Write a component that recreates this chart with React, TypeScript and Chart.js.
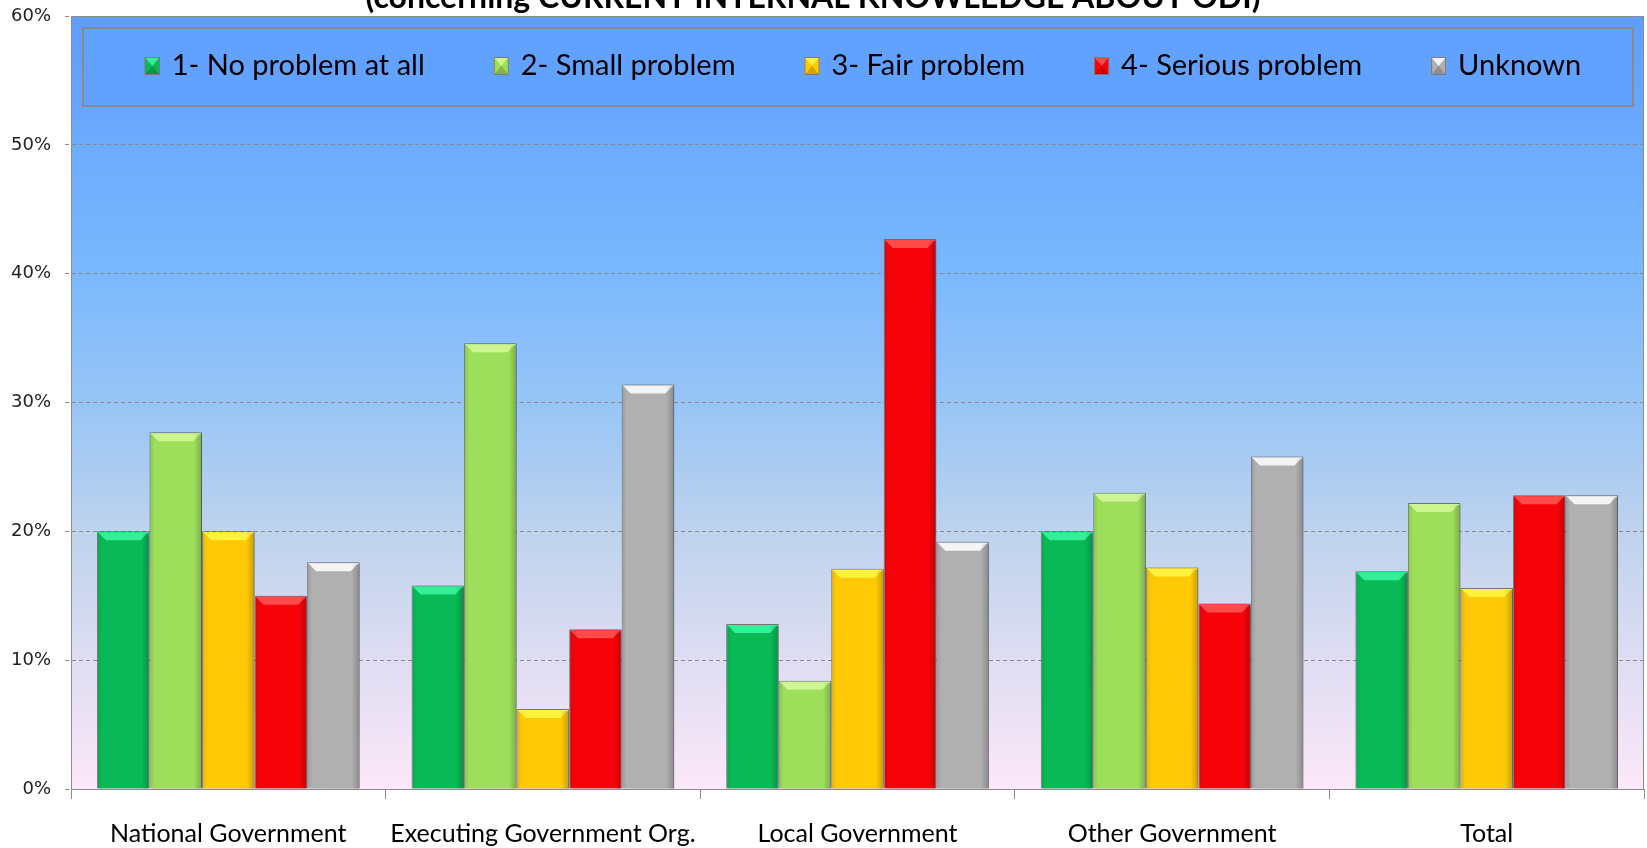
import React, { useEffect, useRef } from "react";
import { Chart, registerables } from "chart.js";
Chart.register(...registerables);

const categories = ["National Government", "Executing Government Org.", "Local Government", "Other Government", "Total"];
const seriesNames = ["1- No problem at all", "2- Small problem", "3- Fair problem", "4- Serious problem", "Unknown"];
const noProblem = [20.0, 15.8, 12.8, 20.0, 16.9];
const smallProblem = [27.7, 34.6, 8.4, 23.0, 22.2];
const fairProblem = [20.0, 6.2, 17.1, 17.2, 15.6];
const seriousProblem = [15.0, 12.4, 42.7, 14.4, 22.8];
const unknownProblem = [17.6, 31.4, 19.2, 25.8, 22.8];
const yTickValues = [0, 10, 20, 30, 40, 50, 60];
const titleText = "(concerning CURRENT INTERNAL KNOWLEDGE ABOUT ODI)";

const fills = ["#08B955", "#9DDF5A", "#FFC905", "#F50309", "#B0B0B0"];
const highlights = ["#34EE98", "#CDF692", "#FFF23C", "#FF4A4A", "#F4F4F4"];

const bgPlugin = {
  id: "bgPlugin",
  beforeDraw(chart: any) {
    const { ctx, chartArea: a } = chart;
    ctx.save();
    ctx.fillStyle = "#ffffff";
    ctx.fillRect(0, 0, chart.width, chart.height);
    const g = ctx.createLinearGradient(0, a.top, 0, a.bottom);
    g.addColorStop(0, "#5D9DFF");
    g.addColorStop(0.33, "#7AB8FD");
    g.addColorStop(0.5, "#98C5F6");
    g.addColorStop(0.67, "#BED3ED");
    g.addColorStop(0.83, "#DEDDF2");
    g.addColorStop(1, "#FCE8F8");
    ctx.fillStyle = g;
    ctx.fillRect(a.left, a.top, a.right - a.left, a.bottom - a.top);
    ctx.restore();
  },
};

const shadowPlugin = {
  id: "shadowPlugin",
  beforeDatasetDraw(chart: any) {
    const ctx = chart.ctx;
    ctx.save();
    ctx.shadowColor = "rgba(0,0,0,0.35)";
    ctx.shadowBlur = 4;
    ctx.shadowOffsetX = 2;
    ctx.shadowOffsetY = 1;
  },
  afterDatasetDraw(chart: any) {
    chart.ctx.restore();
  },
};

const bevelPlugin = {
  id: "bevelPlugin",
  afterDatasetsDraw(chart: any) {
    const ctx = chart.ctx;
    ctx.save();
    chart.data.datasets.forEach((ds: any, i: number) => {
      const meta = chart.getDatasetMeta(i);
      meta.data.forEach((el: any) => {
        const p = el.getProps(["x", "y", "base", "width"], true);
        const l = p.x - p.width / 2;
        const r = p.x + p.width / 2;
        const h = Math.min(9, p.base - p.y);
        ctx.fillStyle = highlights[i];
        ctx.beginPath();
        ctx.moveTo(l + 1, p.y + 1);
        ctx.lineTo(r - 1, p.y + 1);
        ctx.lineTo(r - 9, p.y + h);
        ctx.lineTo(l + 9, p.y + h);
        ctx.closePath();
        ctx.fill();
        const g = ctx.createLinearGradient(r - 8, 0, r, 0);
        g.addColorStop(0, "rgba(0,0,0,0)");
        g.addColorStop(1, "rgba(0,0,0,0.22)");
        ctx.fillStyle = g;
        ctx.fillRect(r - 8, p.y + 2, 7, p.base - p.y - 2);
        const g2 = ctx.createLinearGradient(l, 0, l + 5, 0);
        g2.addColorStop(0, "rgba(0,0,0,0.12)");
        g2.addColorStop(1, "rgba(0,0,0,0)");
        ctx.fillStyle = g2;
        ctx.fillRect(l + 1, p.y + 2, 5, p.base - p.y - 2);
      });
    });
    ctx.restore();
  },
};

const overlayPlugin = {
  id: "overlayPlugin",
  afterDraw(chart: any) {
    const { ctx, chartArea: a } = chart;
    ctx.save();
    ctx.strokeStyle = "#8C8C8C";
    ctx.lineWidth = 1;
    ctx.strokeRect(a.left + 0.5, a.top + 0.5, a.right - a.left - 1, a.bottom - a.top);
    const bl = a.left + 12, br = a.right - 11, bt = a.top + 12, bb = a.top + 90;
    ctx.fillStyle = "#61A1FF";
    ctx.fillRect(bl, bt, br - bl, bb - bt);
    ctx.strokeStyle = "#8A8A8A";
    ctx.lineWidth = 2;
    ctx.strokeRect(bl, bt, br - bl, bb - bt);
    ctx.font = "29px Lato";
    ctx.textBaseline = "middle";
    ctx.textAlign = "left";
    const mw = 15, mh = 18, mg = 12, gap = 69;
    const names = chart.data.datasets.map((d: any) => d.label);
    const widths = names.map((n: string) => ctx.measureText(n).width);
    const total = widths.reduce((s: number, w: number) => s + w + mw + mg, 0) + gap * (names.length - 1);
    let x = (bl + br) / 2 + 5 - total / 2;
    const cy = (bt + bb) / 2 - 1;
    names.forEach((n: string, i: number) => {
      const mx = x, my = cy - mh / 2;
      ctx.fillStyle = fills[i];
      ctx.fillRect(mx, my, mw, mh);
      ctx.fillStyle = highlights[i];
      ctx.beginPath();
      ctx.moveTo(mx, my);
      ctx.lineTo(mx + mw, my);
      ctx.lineTo(mx + mw / 2, my + mh / 2);
      ctx.closePath();
      ctx.fill();
      ctx.fillStyle = "rgba(0,0,0,0.18)";
      ctx.beginPath();
      ctx.moveTo(mx, my + mh);
      ctx.lineTo(mx + mw, my + mh);
      ctx.lineTo(mx + mw / 2, my + mh / 2);
      ctx.closePath();
      ctx.fill();
      ctx.strokeStyle = "#7a7a7a";
      ctx.lineWidth = 1;
      ctx.strokeRect(mx + 0.5, my + 0.5, mw - 1, mh - 1);
      ctx.fillStyle = "#000";
      ctx.fillText(n, mx + mw + mg, cy);
      x += mw + mg + widths[i] + gap;
    });
    ctx.font = "bold 32px Lato";
    ctx.textAlign = "center";
    ctx.textBaseline = "alphabetic";
    ctx.fillStyle = "#000";
    ctx.fillText(titleText, 813, 8);
    ctx.restore();
  },
};

export default function App() {
  const ref = useRef<HTMLCanvasElement | null>(null);
  useEffect(() => {
    if (!ref.current) return;
    const series = [noProblem, smallProblem, fairProblem, seriousProblem, unknownProblem];
    const chart = new Chart(ref.current, {
      type: "bar",
      data: {
        labels: categories,
        datasets: series.map((vals, i) => ({
          label: seriesNames[i],
          data: vals,
          backgroundColor: fills[i],
          borderColor: "rgba(100,100,100,0.75)",
          borderWidth: 1,
          categoryPercentage: 0.835,
          barPercentage: 1,
          clip: false as any,
        })),
      },
      options: {
        responsive: false,
        animation: false,
        layout: { padding: { top: 16, right: 3, left: 0, bottom: 0 } },
        plugins: {
          legend: { display: false },
          title: { display: false },
          tooltip: { enabled: false },
        },
        scales: {
          x: {
            grid: { offset: true, drawOnChartArea: false, drawTicks: true, tickLength: 10, color: "#8C8C8C", lineWidth: 1 },
            border: { display: true, color: "#8C8C8C", width: 1 },
            ticks: { font: { family: "Lato", size: 25 }, color: "#000", padding: 20, maxRotation: 0, autoSkip: false },
            afterFit: (s: any) => { s.height = 59; s.paddingLeft = 0; s.paddingRight = 0; },
          },
          y: {
            min: 0,
            max: 60,
            afterBuildTicks: (s: any) => { s.ticks = yTickValues.map((v) => ({ value: v })); },
            ticks: { callback: (v: any) => v + "%", font: { family: "DejaVu Sans", size: 18 }, color: "#222", padding: 14 },
            grid: { color: "#8A8A8A", tickLength: 6, lineWidth: 1, tickBorderDash: [4, 3] },
            border: { display: true, color: "#8C8C8C", dash: [4, 3] },
            afterFit: (s: any) => { s.width = 71; s.paddingTop = 0; s.paddingBottom = 0; },
          },
        },
      },
      plugins: [bgPlugin, shadowPlugin, bevelPlugin, overlayPlugin],
    });
    return () => chart.destroy();
  }, []);
  return (
    <div style={{ position: "absolute", left: 0, top: 0, width: 1647, height: 848 }}>
      <canvas ref={ref} width={1647} height={848} style={{ display: "block", width: 1647, height: 848 }} />
    </div>
  );
}
